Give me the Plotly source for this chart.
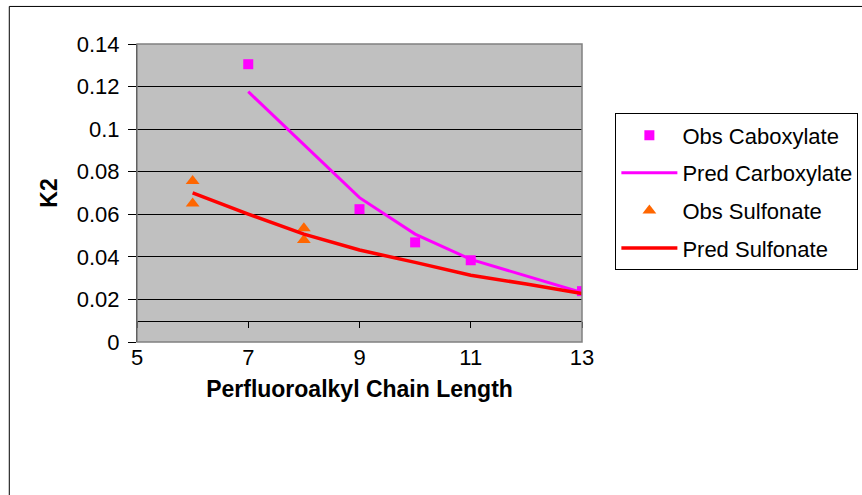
import plotly.graph_objects as go

# observed / predicted K2 values
obs_carb_x = [7, 9, 10, 11, 13]
obs_carb_y = [0.1305, 0.0624, 0.0468, 0.0384, 0.0239]

pred_carb_x = [7, 9, 10, 11, 13]
pred_carb_y = [0.1176, 0.0678, 0.0507, 0.0388, 0.0232]

obs_sulf_x = [6, 6, 8, 8]
obs_sulf_y = [0.0756, 0.0651, 0.0534, 0.0479]

pred_sulf_x = [6, 7, 8, 9, 10, 11, 12, 13]
pred_sulf_y = [0.0701, 0.0601, 0.0507, 0.0432, 0.0374, 0.0314, 0.0272, 0.0228]

x_ticks = [5, 7, 9, 11, 13]
y_ticks = [0, 0.02, 0.04, 0.06, 0.08, 0.1, 0.12, 0.14]
y_tick_text = ["0", "0.02", "0.04", "0.06", "0.08", "0.1", "0.12", "0.14"]
x_cross = 0.01  # value where the category axis crosses

FONT = "Liberation Sans, Arial, sans-serif"

fig = go.Figure()

fig.add_trace(go.Scatter(
    x=obs_carb_x, y=obs_carb_y, mode="markers", name="Obs Caboxylate",
    marker=dict(symbol="square", size=10, color="#FF00FF"),
    legendgroup="a",
))
fig.add_trace(go.Scatter(
    x=pred_carb_x, y=pred_carb_y, mode="lines", name="Pred Carboxylate",
    line=dict(color="#FF00FF", width=3),
    legendgroup="b",
))
fig.add_trace(go.Scatter(
    x=obs_sulf_x, y=obs_sulf_y, mode="markers", name="Obs Sulfonate",
    marker=dict(symbol="triangle-up", size=12, color="#FF6600"),
    legendgroup="c",
))
fig.add_trace(go.Scatter(
    x=pred_sulf_x, y=pred_sulf_y, mode="lines", name="Pred Sulfonate",
    line=dict(color="#FF0000", width=3.5),
    legendgroup="d",
))

# gray border of the plot area + outer chart border
fig.add_shape(type="rect", xref="x domain", yref="y domain", x0=0, x1=1, y0=0, y1=1,
              line=dict(color="#808080", width=1.5), layer="above")
fig.add_shape(type="rect", xref="paper", yref="paper", x0=-0.287, x1=1.70, y0=-0.60, y1=1.126,
              line=dict(color="black", width=1))

fig.update_layout(
    width=862, height=495,
    margin=dict(l=137, r=280, t=44, b=153, autoexpand=False),
    paper_bgcolor="white",
    plot_bgcolor="#C0C0C0",
    font=dict(family=FONT, size=22, color="black"),
    showlegend=True,
    legend=dict(
        x=1.075, y=0.767, xanchor="left", yanchor="top",
        bgcolor="white", bordercolor="black", borderwidth=1,
        font=dict(family=FONT, size=22),
        traceorder="grouped", tracegroupgap=6,
        itemwidth=56, entrywidth=280, entrywidthmode="pixels",
    ),
    xaxis=dict(
        range=[5, 13], tickvals=x_ticks, showgrid=False, zeroline=False,
        ticks="", tickfont=dict(size=22), showline=False,
        title=dict(text="<b>Perfluoroalkyl Chain Length</b>", font=dict(size=23), standoff=11),
    ),
    xaxis2=dict(
        range=[5, 13], overlaying="x", anchor="free", position=x_cross / 0.14,
        side="bottom", tickvals=x_ticks, showticklabels=False, ticks="outside",
        ticklen=6, tickcolor="black", showline=True, linecolor="black", linewidth=1,
        showgrid=False, zeroline=False,
    ),
    yaxis=dict(
        range=[0, 0.14], tickvals=y_ticks, ticktext=y_tick_text,
        showgrid=True, gridcolor="black", gridwidth=1, zeroline=False,
        ticks="outside", ticklen=8, tickcolor="black",
        showline=True, linecolor="black", linewidth=1,
        tickfont=dict(size=22), ticklabelstandoff=4,
        title=dict(text="<b>K2</b>", font=dict(size=23), standoff=12),
    ),
)

# dummy trace so the crossing axis is drawn
fig.add_trace(go.Scatter(x=[5, 13], y=[None, None], xaxis="x2", showlegend=False,
                         hoverinfo="skip"))

fig.write_html("out.html", config={"displayModeBar": False},
               post_script="document.body.style.margin='0';")
